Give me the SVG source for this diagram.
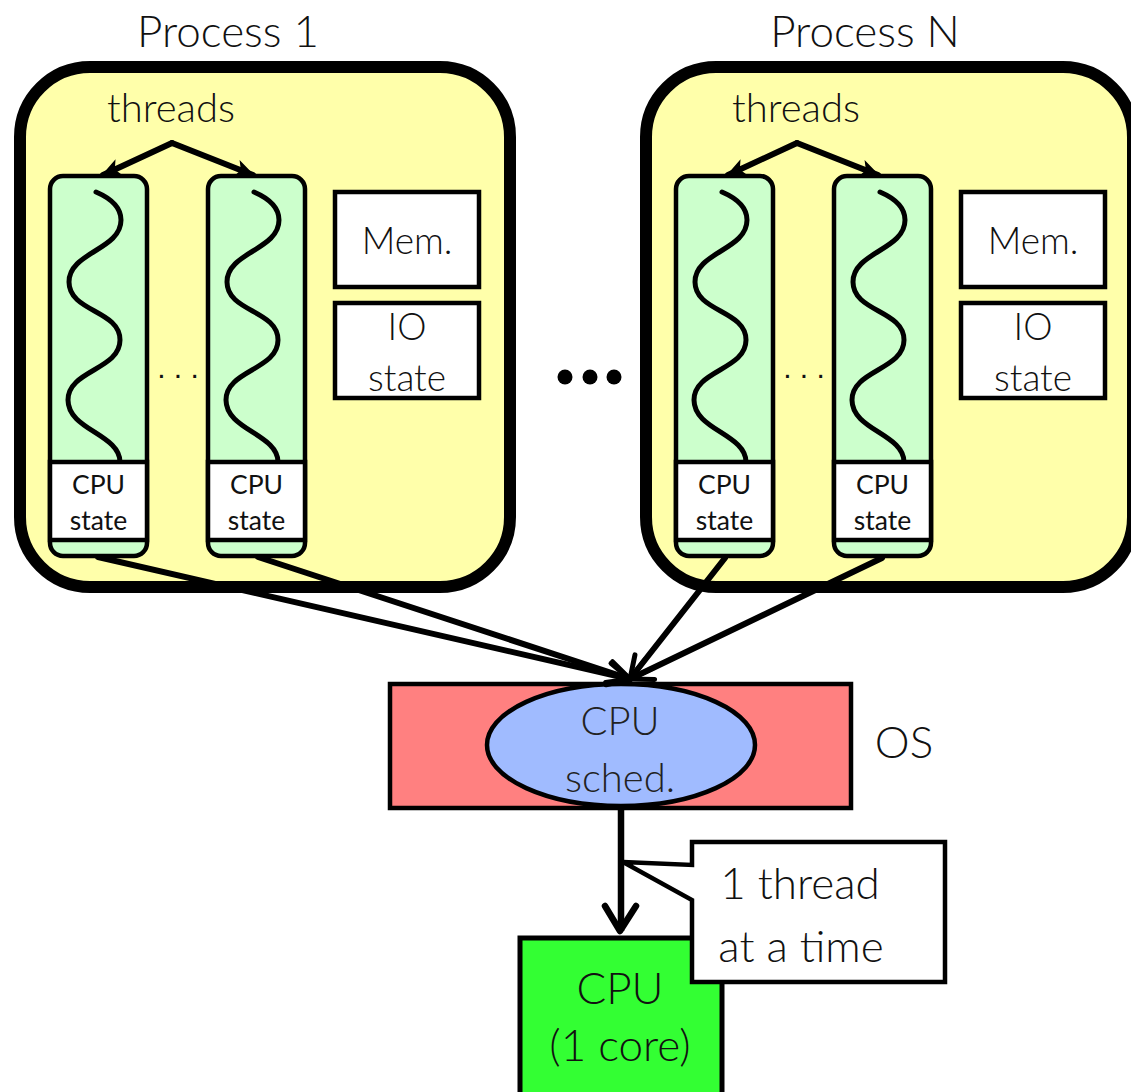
<svg xmlns="http://www.w3.org/2000/svg" width="1131" height="1092" viewBox="0 0 1131 1092">
<defs>
<style>
text{font-family:Lato,"Open Sans","Liberation Sans",sans-serif;fill:#111;text-anchor:middle;font-weight:300}
.proc{fill:#FFFFAA;stroke:#000;stroke-width:12}
.col{fill:#CCFFCC;stroke:#000;stroke-width:4.5}
.box{fill:#fff;stroke:#000;stroke-width:4.5}
.wave{fill:none;stroke:#000;stroke-width:5;stroke-linecap:round}
.conn{fill:none;stroke:#000;stroke-width:6;stroke-linecap:round}
.t40{font-size:40px}
.t44{font-size:44px}
.t36{font-size:37px}
.t24{font-size:26.5px;font-weight:400}
</style>
<marker id="tri" viewBox="0 0 20 20" refX="18" refY="10" markerWidth="20" markerHeight="20" markerUnits="userSpaceOnUse" orient="auto">
<path d="M0,1 L20,10 L0,19 L5,10 Z" fill="#000"/>
</marker>
<marker id="vee" viewBox="0 0 30 30" refX="26" refY="15" markerWidth="30" markerHeight="30" markerUnits="userSpaceOnUse" orient="auto">
<path d="M4,4 L26,15 L4,26" fill="none" stroke="#000" stroke-width="5" stroke-linecap="round" stroke-linejoin="round"/>
</marker>
<g id="thread">
<rect class="col" x="0" y="0" width="97" height="380" rx="13"/>
<path class="wave" d="M46,16 C60,22 71,30 71,44 C71,74 19,76 19,106 C19,136 70,134 70,164 C70,194 18,194 18,224 C18,254 70,258 70,286"/>
<rect class="box" x="0" y="286" width="97" height="78"/>
<text class="t24" x="48.5" y="318">CPU</text>
<text class="t24" x="48.5" y="354">state</text>
</g>
</defs>
<rect width="1131" height="1092" fill="#fff"/>

<g id="process1">
<rect class="proc" x="20" y="67" width="490" height="520" rx="70"/>
<text class="t44" x="228" y="47">Process 1</text>
<text class="t40" x="171" y="122">threads</text>
</g>
<g id="process1-thread1"><use href="#thread" x="50" y="176"/></g>
<g id="process1-thread2"><use href="#thread" x="208" y="176"/></g>
<text x="178" y="378" style="font-size:30px;font-family:'Liberation Sans',sans-serif">. . .</text>
<g id="process1-mem"><rect class="box" x="335" y="192" width="144" height="95"/><text class="t36" x="407" y="254">Mem.</text></g>
<g id="process1-io"><rect class="box" x="335" y="303" width="144" height="95"/><text class="t36" x="407" y="340">IO</text><text class="t36" x="407" y="391">state</text></g>

<g id="processN">
<rect class="proc" x="646" y="67" width="487" height="520" rx="70"/>
<text class="t44" x="865" y="47">Process N</text>
<text class="t40" x="796" y="122">threads</text>
</g>
<g id="processN-thread1"><use href="#thread" x="676" y="176"/></g>
<g id="processN-thread2"><use href="#thread" x="834" y="176"/></g>
<text x="804" y="378" style="font-size:30px;font-family:'Liberation Sans',sans-serif">. . .</text>
<g id="processN-mem"><rect class="box" x="961" y="192" width="144" height="95"/><text class="t36" x="1033" y="254">Mem.</text></g>
<g id="processN-io"><rect class="box" x="961" y="303" width="144" height="95"/><text class="t36" x="1033" y="340">IO</text><text class="t36" x="1033" y="391">state</text></g>

<g id="ellipsis">
<circle cx="565" cy="377" r="7.5" fill="#000"/>
<circle cx="590" cy="377" r="7.5" fill="#000"/>
<circle cx="614" cy="377" r="7.5" fill="#000"/>
</g>

<g id="os">
<rect x="390" y="684" width="461" height="124" fill="#FF8080" stroke="#000" stroke-width="4.5"/>
<text class="t44" x="904" y="758">OS</text>
</g>
<g id="sched">
<ellipse cx="621" cy="745" rx="134" ry="61" fill="#A0BBFF" stroke="#000" stroke-width="4.5"/>
<text class="t40" x="620" y="735" style="fill:#222">CPU</text>
<text class="t40" x="620" y="792" style="fill:#222">sched.</text>
</g>
<g id="cpu">
<rect x="520" y="938" width="202" height="170" fill="#33FF33" stroke="#000" stroke-width="5"/>
<text class="t44" x="620" y="1004">CPU</text>
<text class="t44" x="620" y="1061">(1 core)</text>
</g>

<g id="connectors">
<path class="conn" d="M172,143 L103,175" marker-end="url(#tri)"/>
<path class="conn" d="M172,143 L253,175" marker-end="url(#tri)"/>
<path class="conn" d="M797,143 L728,175" marker-end="url(#tri)"/>
<path class="conn" d="M797,143 L878,175" marker-end="url(#tri)"/>
<path class="conn" d="M98,557 L630,679" marker-end="url(#vee)"/>
<path class="conn" d="M258,557 L630,679" marker-end="url(#vee)"/>
<path class="conn" d="M725,558 L630,679" marker-end="url(#vee)"/>
<path class="conn" d="M882,558 L630,679" marker-end="url(#vee)"/>
<path d="M621,808 L621,931" fill="none" stroke="#000" stroke-width="6.5"/>
<path d="M605,906 L620,931 L636,906" fill="none" stroke="#000" stroke-width="6.5" stroke-linecap="round" stroke-linejoin="round"/>
</g>

<g id="callout">
<path d="M692,842 L945,842 L945,982 L692,982 L692,900 L623,862 L692,865 Z" fill="#fff" stroke="#000" stroke-width="4.5" stroke-linejoin="miter"/>
<text class="t44" x="800" y="899">1 thread</text>
<text class="t44" x="801" y="962">at a time</text>
</g>
</svg>
